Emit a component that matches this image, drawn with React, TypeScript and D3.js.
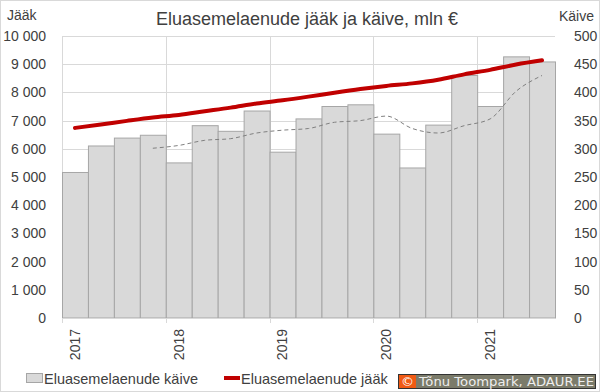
import * as d3 from "d3";

// quarters 2017 Q1 .. 2021 Q3
const quarters = [
  "2017Q1", "2017Q2", "2017Q3", "2017Q4",
  "2018Q1", "2018Q2", "2018Q3", "2018Q4",
  "2019Q1", "2019Q2", "2019Q3", "2019Q4",
  "2020Q1", "2020Q2", "2020Q3", "2020Q4",
  "2021Q1", "2021Q2", "2021Q3",
];

// Eluasemelaenude käive, mln € (right axis)
const kaive = [258, 305, 319, 324, 275, 341, 331, 367, 294, 353, 375, 378, 326, 266, 342, 430, 375, 463, 454];

// 4 quarter average of käive (dashed), first value in 2017Q4
const kaiveAvg = [null, null, null, 301, 306, 315, 318, 328, 333, 336, 347, 350, 358, 336, 328, 341, 353, 402, 430];

// Eluasemelaenude jääk, mln € (left axis)
const jaak = [6740, 6860, 6990, 7110, 7200, 7330, 7460, 7610, 7720, 7850, 7990, 8120, 8230, 8320, 8450, 8640, 8800, 8990, 9140];

const leftTicks = [0, 1000, 2000, 3000, 4000, 5000, 6000, 7000, 8000, 9000, 10000];
const rightTicks = [0, 50, 100, 150, 200, 250, 300, 350, 400, 450, 500];
const years = ["2017", "2018", "2019", "2020", "2021"];

const W = 600;
const H = 392;
const plot = { left: 62, right: 555, top: 36, bottom: 318 };
const FONT = "'Liberation Sans', Arial, sans-serif";
const TEXT = "#404040";

const fmt = d3.formatLocale({ decimal: ",", thousands: "\u00a0", grouping: [3], currency: ["", "€"] }).format(",d");

export default function App() {
  const x = d3.scaleBand<string>().domain(quarters).range([plot.left, plot.right]).padding(0);
  const yL = d3.scaleLinear().domain([0, 10000]).range([plot.bottom, plot.top]);
  const yR = d3.scaleLinear().domain([0, 500]).range([plot.bottom, plot.top]);
  const cx = (i: number) => (x(quarters[i]) as number) + x.bandwidth() / 2;

  const jaakLine = d3
    .line<number>()
    .x((_, i) => cx(i))
    .y((d) => yL(d))
    .curve(d3.curveMonotoneX)(jaak) as string;

  const avgLine = d3
    .line<number | null>()
    .defined((d) => d != null)
    .x((_, i) => cx(i))
    .y((d) => yR(d as number))
    .curve(d3.curveMonotoneX)(kaiveAvg) as string;

  return (
    <div style={{ position: "absolute", left: 0, top: 0 }}>
      <svg width={W} height={H} style={{ display: "block", fontFamily: FONT }}>
        <rect x={0} y={0} width={W} height={H} fill="#fff" />
        <rect x={0.5} y={0.5} width={W - 1} height={H - 1} fill="none" stroke="#d9d9d9" />

        <text x={307} y={25} textAnchor="middle" fontSize={18} fill={TEXT}>
          Eluasemelaenude jääk ja käive, mln €
        </text>
        <text x={7} y={20} fontSize={14} fill={TEXT}>Jääk</text>
        <text x={559} y={21} fontSize={14} fill={TEXT}>Käive</text>

        {/* horizontal gridlines */}
        {leftTicks.map((t) => (
          <line key={t} x1={plot.left} x2={plot.right} y1={Math.round(yL(t)) + 0.5} y2={Math.round(yL(t)) + 0.5} stroke="#d9d9d9" />
        ))}
        {/* vertical gridlines at year starts */}
        {years.map((yr) => {
          const xv = Math.round(x(yr + "Q1") as number) + 0.5;
          return <line key={yr} x1={xv} x2={xv} y1={plot.top} y2={plot.bottom + 5} stroke="#d9d9d9" />;
        })}

        {/* left axis labels */}
        {leftTicks.map((t) => (
          <text key={t} x={46} y={yL(t)} dy="0.35em" textAnchor="end" fontSize={14} fill={TEXT}>
            {fmt(t)}
          </text>
        ))}
        {/* right axis labels */}
        {rightTicks.map((t) => (
          <text key={t} x={574} y={yR(t)} dy="0.35em" textAnchor="start" fontSize={14} fill={TEXT}>
            {t}
          </text>
        ))}

        {/* bars */}
        {kaive.map((v, i) => (
          <rect
            key={quarters[i]}
            x={(x(quarters[i]) as number) + 0.5}
            y={yR(v)}
            width={x.bandwidth()}
            height={plot.bottom - yR(v)}
            fill="#d9d9d9"
            stroke="#a6a6a6"
            strokeWidth={1}
          />
        ))}

        {/* x axis line */}
        <line x1={plot.left} x2={plot.right} y1={plot.bottom + 0.5} y2={plot.bottom + 0.5} stroke="#d9d9d9" />

        <path d={avgLine} fill="none" stroke="#808080" strokeWidth={1} strokeDasharray="4,3" />
        <path d={jaakLine} fill="none" stroke="#c00000" strokeWidth={4} strokeLinecap="round" />

        {/* year labels */}
        {years.map((yr) => {
          const xv = cx(quarters.indexOf(yr + "Q1"));
          return (
            <text
              key={yr}
              transform={`translate(${xv},329) rotate(-90)`}
              dy="0.35em"
              textAnchor="end"
              fontSize={14}
              fill={TEXT}
            >
              {yr}
            </text>
          );
        })}

        {/* legend */}
        <rect x={26.5} y={373.5} width={16} height={9} fill="#d9d9d9" stroke="#a6a6a6" />
        <text x={44} y={384} fontSize={14.5} fill={TEXT}>Eluasemelaenude käive</text>
        <line x1={224} x2={240} y1={378} y2={378} stroke="#c00000" strokeWidth={4} />
        <text x={241} y={384} fontSize={14.5} fill={TEXT}>Eluasemelaenude jääk</text>

        {/* copyright */}
        <rect x={398.5} y={374.5} width={197} height={14} fill="#7b7b6a" stroke="#333" />
        <rect x={399} y={375} width={17} height={13} fill="#f05a14" />
        <text x={407.5} y={386} textAnchor="middle" fontSize={13} fill="#fff" fontFamily="'DejaVu Sans', sans-serif">©</text>
        <text x={419} y={386} fontSize={13} fill="#eeeeee" fontFamily="'DejaVu Sans', sans-serif" textLength={175} lengthAdjust="spacingAndGlyphs">
          Tõnu Toompark, ADAUR.EE
        </text>
      </svg>
    </div>
  );
}
